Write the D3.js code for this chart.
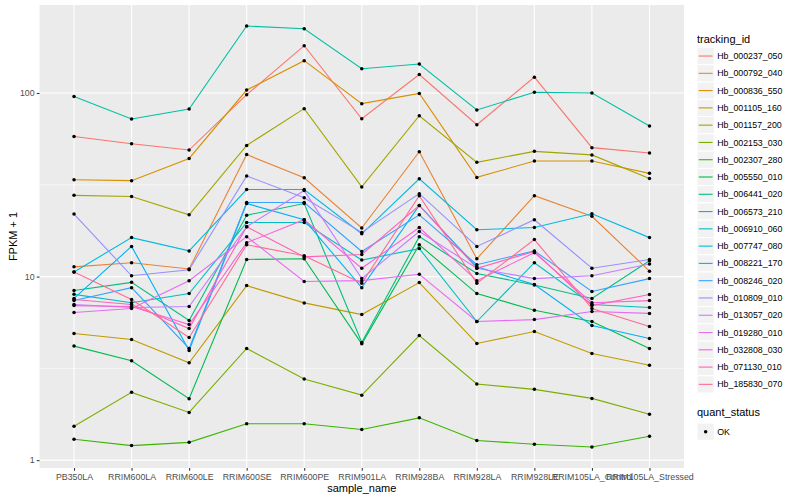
<!DOCTYPE html>
<html>
<head>
<meta charset="utf-8">
<script src="https://cdn.jsdelivr.net/npm/d3@7"></script>
<style>
  body { margin: 0; background: #fff; }
  text { font-family: "Liberation Sans", Arial, sans-serif; }
</style>
</head>
<body>
<script>
var w = 800;
var h = 500;

var samples = ["PB350LA", "RRIM600LA", "RRIM600LE", "RRIM600SE", "RRIM600PE", "RRIM901LA",
  "RRIM928BA", "RRIM928LA", "RRIM928LE", "RRIM105LA_Control", "RRIM105LA_Stressed"];

var trackingIds = ["Hb_000237_050", "Hb_000792_040", "Hb_000836_550", "Hb_001105_160", "Hb_001157_200",
  "Hb_002153_030", "Hb_002307_280", "Hb_005550_010", "Hb_006441_020", "Hb_006573_210",
  "Hb_006910_060", "Hb_007747_080", "Hb_008221_170", "Hb_008246_020", "Hb_010809_010",
  "Hb_013057_020", "Hb_019280_010", "Hb_032808_030", "Hb_071130_010", "Hb_185830_070"];

// ggplot default hue palette for 20 levels
var palette = ["#F8766D", "#EA8331", "#D89000", "#C09B00", "#A3A500", "#7CAE00", "#39B600", "#00BB4E",
  "#00BF7D", "#00C1A3", "#00BFC4", "#00BAE0", "#00B0F6", "#35A2FF", "#9590FF", "#C77CFF",
  "#E76BF3", "#FA62DB", "#FF62BC", "#FF6C91"];

// FPKM + 1, one row per tracking id, one value per sample
var fpkm = [
  [58, 52.9, 48.9, 97.9, 181, 72.4, 126, 67.2, 122, 50.4, 47.1],
  [11.3, 11.9, 11, 46.2, 34.5, 18.4, 47.9, 12.5, 27.6, 21.3, 10.7],
  [33.7, 33.3, 44, 103.8, 150, 87.5, 99.5, 34.7, 42.6, 42.6, 36.5],
  [4.9, 4.54, 3.39, 8.93, 7.19, 6.21, 9.27, 4.32, 5.02, 3.81, 3.29],
  [27.7, 27.3, 21.7, 51.8, 82.2, 30.8, 75.2, 41.9, 48.1, 46, 34.2],
  [1.53, 2.34, 1.82, 4.06, 2.77, 2.26, 4.77, 2.6, 2.43, 2.17, 1.78],
  [1.30, 1.20, 1.25, 1.58, 1.58, 1.47, 1.70, 1.28, 1.22, 1.18, 1.35],
  [4.18, 3.48, 2.16, 12.4, 12.5, 4.3, 14.9, 8.08, 6.56, 5.69, 4.06],
  [8.4, 9.3, 5.76, 21.6, 25, 4.37, 16.5, 10.4, 9.0, 7.6, 12.2],
  [95.8, 72.2, 81.8, 231.6, 224, 135.5, 143.8, 80.8, 101, 100, 66.1],
  [8.0, 7.2, 8.08, 19.7, 19.7, 12.3, 14.2, 5.69, 11.9, 7.04, 6.78],
  [10.6, 16.3, 13.8, 29.8, 29.8, 17.1, 34.1, 18.0, 18.5, 22.0, 16.3],
  [7.6, 14.6, 3.96, 25.0, 20.4, 8.7, 24.4, 11.3, 9.04, 5.41, 4.6],
  [7.4, 8.7, 4.06, 25.3, 25.3, 13.7, 21.7, 11.6, 13.8, 8.3, 9.75],
  [21.9, 10.1, 10.9, 35.3, 26.9, 17.4, 28.3, 14.6, 20.4, 11.1, 12.4],
  [7.04, 6.78, 6.87, 18.7, 29.4, 9.75, 17.6, 11.1, 9.75, 10.1, 11.7],
  [6.37, 6.7, 9.5, 16.5, 9.4, 9.5, 10.3, 5.69, 5.83, 6.45, 6.3],
  [6.95, 6.87, 5.48, 15.3, 20.4, 11.1, 18.5, 9.5, 13.5, 7.2, 7.4],
  [7.5, 7.04, 5.21, 18.7, 12.8, 13.2, 24.4, 11.1, 13.7, 6.95, 7.98],
  [10.6, 7.5, 4.66, 14.9, 13.0, 9.2, 27.6, 9.2, 15.9, 6.7, 5.35]
];

var yTicks = [1, 10, 100];
var yMinorTicks = [3.162, 31.62];
var statusLevels = ["OK"];

var panel = { left: 39.5, right: 684, top: 5, bottom: 468 };

var svg = d3.select("body").append("svg")
  .attr("width", w)
  .attr("height", h);

var x = d3.scalePoint()
  .domain(samples)
  .range([panel.left, panel.right])
  .padding(0.6);

// log scale with 5% expansion in log space, like ggplot
var all = fpkm.flat();
var lo = Math.log10(d3.min(all));
var hi = Math.log10(d3.max(all));
var pad = (hi - lo) * 0.05;
var y = d3.scaleLog()
  .domain([Math.pow(10, lo - pad), Math.pow(10, hi + pad)])
  .range([panel.bottom, panel.top]);

/**
 * Draws the grey panel and its grid.
 */
function drawPanel(view) {
  view.append("rect")
    .attr("x", panel.left)
    .attr("y", panel.top)
    .attr("width", panel.right - panel.left)
    .attr("height", panel.bottom - panel.top)
    .attr("fill", "#EBEBEB");

  view.append("g").selectAll("line")
    .data(yMinorTicks)
    .enter().append("line")
    .attr("x1", panel.left).attr("x2", panel.right)
    .attr("y1", d => y(d)).attr("y2", d => y(d))
    .attr("stroke", "#fff").attr("stroke-width", 0.55);

  view.append("g").selectAll("line")
    .data(yTicks)
    .enter().append("line")
    .attr("x1", panel.left).attr("x2", panel.right)
    .attr("y1", d => y(d)).attr("y2", d => y(d))
    .attr("stroke", "#fff").attr("stroke-width", 1.1);

  view.append("g").selectAll("line")
    .data(samples)
    .enter().append("line")
    .attr("x1", d => x(d)).attr("x2", d => x(d))
    .attr("y1", panel.top).attr("y2", panel.bottom)
    .attr("stroke", "#fff").attr("stroke-width", 1.1);
}

/**
 * Draws both axes and their titles.
 */
function drawAxes(view) {
  var yAxis = view.append("g")
    .attr("transform", "translate(" + panel.left + ",0)")
    .call(d3.axisLeft(y).tickValues(yTicks).tickFormat(d3.format("d")).tickSize(2.75).tickPadding(2.2));

  var xAxis = view.append("g")
    .attr("transform", "translate(0," + panel.bottom + ")")
    .call(d3.axisBottom(x).tickSize(2.75).tickPadding(3.2));

  [xAxis, yAxis].forEach(function (a) {
    a.select(".domain").remove();
    a.selectAll(".tick line").attr("stroke", "#333333").attr("stroke-width", 1.07);
    a.selectAll(".tick text")
      .attr("fill", "#4D4D4D")
      .style("font-size", "8.8px")
      .style("font-family", "'Liberation Sans', Arial, sans-serif");
  });

  view.append("text")
    .attr("x", (panel.left + panel.right) / 2)
    .attr("y", 492)
    .attr("text-anchor", "middle")
    .style("font-size", "11px")
    .text("sample_name");

  view.append("text")
    .attr("transform", "translate(" + [17, (panel.top + panel.bottom) / 2] + ") rotate(-90)")
    .attr("text-anchor", "middle")
    .style("font-size", "11px")
    .text("FPKM + 1");
}

/**
 * Draws one line per tracking id and the points on top.
 */
function drawSeries(view) {
  var line = d3.line()
    .x((d, i) => x(samples[i]))
    .y(d => y(d));

  view.append("g").selectAll("path")
    .data(fpkm)
    .enter().append("path")
    .attr("d", d => line(d))
    .attr("fill", "none")
    .attr("stroke", (d, i) => palette[i])
    .attr("stroke-width", 1.1);

  var pts = [];
  fpkm.forEach(function (row) {
    row.forEach(function (v, j) { pts.push({ s: samples[j], v: v }); });
  });

  view.append("g").selectAll("circle")
    .data(pts)
    .enter().append("circle")
    .attr("cx", d => x(d.s))
    .attr("cy", d => y(d.v))
    .attr("r", 1.75)
    .attr("fill", "#000");
}

/**
 * Draws the two legends on the right.
 */
function drawLegend(view) {
  var lx = 697;
  var keySize = 17.28;
  var top = 47.4;

  view.append("text")
    .attr("x", lx).attr("y", 43)
    .style("font-size", "11px")
    .text("tracking_id");

  var keys = view.append("g").selectAll("g")
    .data(trackingIds)
    .enter().append("g")
    .attr("transform", (d, i) => "translate(" + [lx, top + i * keySize] + ")");

  keys.append("rect")
    .attr("width", keySize).attr("height", keySize)
    .attr("fill", "#F2F2F2")
    .attr("stroke", "#fff").attr("stroke-width", 1);

  keys.append("line")
    .attr("x1", 1.7).attr("x2", keySize - 1.7)
    .attr("y1", keySize / 2).attr("y2", keySize / 2)
    .attr("stroke", (d, i) => palette[i])
    .attr("stroke-width", 1.1);

  keys.append("text")
    .attr("x", keySize + 3)
    .attr("y", keySize / 2 + 3.1)
    .style("font-size", "8.8px")
    .text(d => d);

  view.append("text")
    .attr("x", lx).attr("y", 416)
    .style("font-size", "11px")
    .text("quant_status");

  var status = view.append("g").selectAll("g")
    .data(statusLevels)
    .enter().append("g")
    .attr("transform", (d, i) => "translate(" + [lx, 423 + i * keySize] + ")");

  status.append("rect")
    .attr("width", keySize).attr("height", keySize)
    .attr("fill", "#F2F2F2")
    .attr("stroke", "#fff").attr("stroke-width", 1);

  status.append("circle")
    .attr("cx", keySize / 2).attr("cy", keySize / 2)
    .attr("r", 1.75)
    .attr("fill", "#000");

  status.append("text")
    .attr("x", keySize + 3)
    .attr("y", keySize / 2 + 3.1)
    .style("font-size", "8.8px")
    .text(d => d);
}

drawPanel(svg);
drawSeries(svg);
drawAxes(svg);
drawLegend(svg);
</script>
</body>
</html>
